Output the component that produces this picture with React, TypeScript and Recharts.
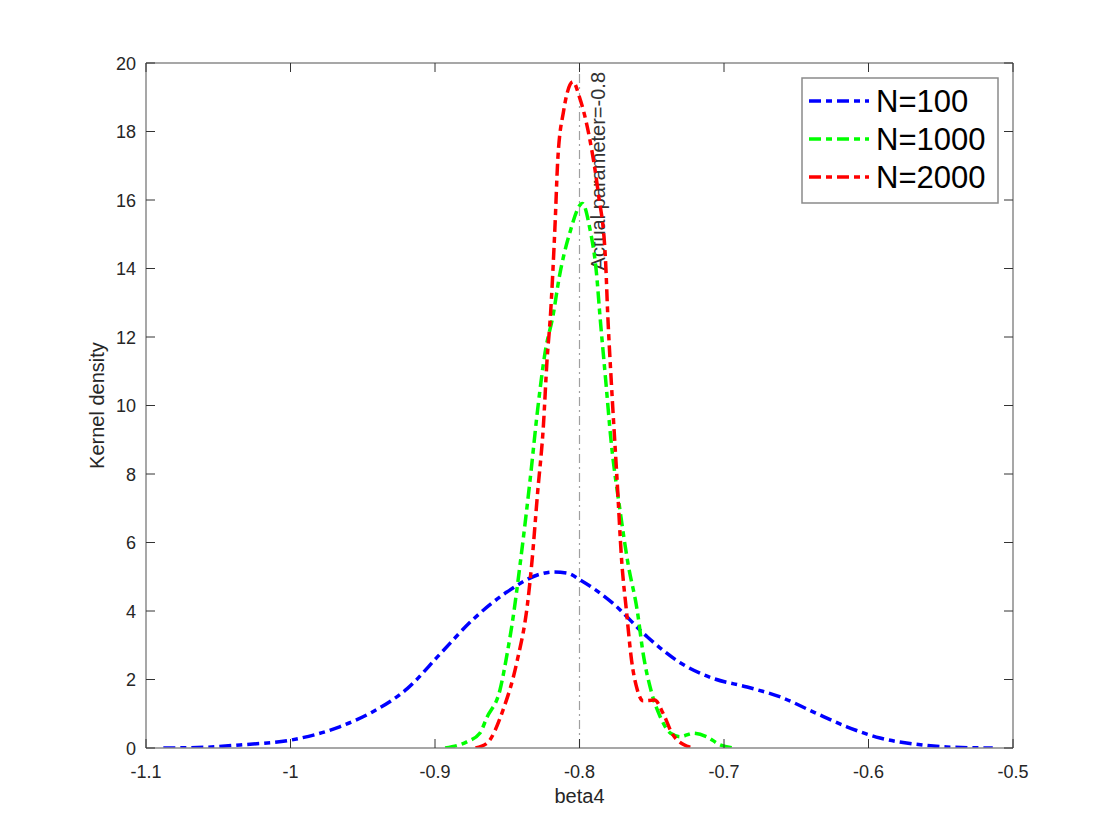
import React from "react";
import {
    Line,
    LineChart,
    XAxis,
    YAxis,
    ReferenceLine,
    Legend
} from "recharts";

// kernel density estimates as [beta4, density]
const n100: [number, number][] = [
    [-1.088, 0], [-1.06, 0.02], [-1.035, 0.09], [-1.0, 0.23], [-0.966, 0.62],
    [-0.943, 1.06], [-0.919, 1.74], [-0.897, 2.72], [-0.874, 3.74], [-0.85, 4.56],
    [-0.827, 5.08], [-0.818, 5.14], [-0.808, 5.1], [-0.8, 4.92], [-0.777, 4.23],
    [-0.753, 3.24], [-0.73, 2.48], [-0.708, 2.04], [-0.684, 1.78], [-0.661, 1.49],
    [-0.638, 1.05], [-0.615, 0.62], [-0.592, 0.29], [-0.569, 0.12], [-0.546, 0.03],
    [-0.514, 0]
];

const n1000: [number, number][] = [
    [-0.893, 0], [-0.878, 0.18], [-0.869, 0.43], [-0.864, 0.9], [-0.855, 1.7],
    [-0.85, 2.77], [-0.846, 3.8], [-0.841, 5.4], [-0.834, 7.9], [-0.829, 9.87],
    [-0.824, 11.5], [-0.818, 12.7], [-0.814, 13.75], [-0.807, 15.0], [-0.798, 15.9],
    [-0.793, 15.2], [-0.788, 13.75], [-0.786, 12.7], [-0.782, 10.8], [-0.778, 8.9],
    [-0.772, 6.95], [-0.7665, 5.4], [-0.76, 4.0], [-0.756, 2.77], [-0.75, 1.6],
    [-0.744, 0.9], [-0.737, 0.43], [-0.73, 0.33], [-0.7215, 0.43], [-0.712, 0.33],
    [-0.703, 0.1], [-0.694, 0]
];

const n2000: [number, number][] = [
    [-0.872, 0], [-0.864, 0.14], [-0.853, 1.1], [-0.843, 2.57], [-0.836, 4.2],
    [-0.833, 5.4], [-0.829, 7.45], [-0.825, 9.4], [-0.8225, 11.3], [-0.82, 12.7],
    [-0.817, 15.2], [-0.815, 17.2], [-0.811, 18.6], [-0.8045, 19.45], [-0.8, 19.0],
    [-0.793, 17.8], [-0.787, 16.2], [-0.782, 14.25], [-0.7805, 12.7], [-0.7776, 10.4],
    [-0.7741, 7.9], [-0.7707, 5.4], [-0.7675, 4.0], [-0.764, 2.57], [-0.76, 1.7],
    [-0.756, 1.38], [-0.748, 1.4], [-0.742, 1.0], [-0.736, 0.43], [-0.728, 0.1],
    [-0.72, 0]
];

const xTicks = [-1.1, -1, -0.9, -0.8, -0.7, -0.6, -0.5];
const yTicks = [0, 2, 4, 6, 8, 10, 12, 14, 16, 18, 20];
const actualParameter = -0.8;

const series = [
    { name: "N=100", color: "#0000ff", points: n100 },
    { name: "N=1000", color: "#00ff00", points: n1000 },
    { name: "N=2000", color: "#ff0000", points: n2000 }
];

const toRows = (pts: [number, number][]) => pts.map(([x, y]) => ({ x, y }));

const DASH = "12 5 6 5";
const FONT = "'Liberation Sans', Arial, Helvetica, sans-serif";
const AXIS_GREY = "#8a8a8a";
const TICK = "#333";
const TEXT = "#262626";
const TL = 9; // inward tick length

const fmtX = (v: number) => String(Math.round(v * 10) / 10);

// MATLAB style ticks point into the plot box
const BottomTick = ({ x, y, payload }: any) => (
    <g>
        <line x1={x} x2={x} y1={y - 17} y2={y - 17 - TL} stroke={TICK} strokeWidth={1} />
        <text x={x} y={y + 13} textAnchor="middle" fontSize={18} fill={TEXT} fontFamily={FONT}>
            {fmtX(payload.value)}
        </text>
    </g>
);

const LeftTick = ({ x, y, payload }: any) => (
    <g>
        <line x1={x + 10} x2={x + 10 + TL} y1={y} y2={y} stroke={TICK} strokeWidth={1} />
        <text x={x} y={y + 6.5} textAnchor="end" fontSize={18} fill={TEXT} fontFamily={FONT}>
            {payload.value}
        </text>
    </g>
);

const TopTick = ({ x, y }: any) => (
    <line x1={x} x2={x} y1={y} y2={y + TL} stroke={TICK} strokeWidth={1} />
);

const RightTick = ({ x, y }: any) => (
    <line x1={x} x2={x - TL} y1={y} y2={y} stroke={TICK} strokeWidth={1} />
);

const LegendBox = () => (
    <svg width={198} height={127}>
        <rect x={1} y={1} width={196} height={125} fill="#fff" stroke={AXIS_GREY} strokeWidth={1.5} />
        {series.map((s, i) => {
            const cy = 24 + i * 38;
            return (
                <g key={s.name}>
                    <line x1={8} x2={68} y1={cy} y2={cy} stroke={s.color} strokeWidth={3.5} strokeDasharray={DASH} />
                    <text x={75} y={cy + 11} fontSize={31} fill="#000" fontFamily={FONT}>{s.name}</text>
                </g>
            );
        })}
    </svg>
);

const RefLabel = ({ viewBox }: any) => {
    const x = viewBox.x + 25;
    const y = viewBox.y + 9;
    return (
        <text
            x={x}
            y={y}
            transform={`rotate(-90 ${x} ${y})`}
            textAnchor="end"
            fontSize={20}
            fill="#333"
            fontFamily={FONT}
        >
            Actual parameter=-0.8
        </text>
    );
};

const YTitle = ({ viewBox }: any) => {
    const x = viewBox.x + 38;
    const y = viewBox.y + viewBox.height / 2;
    return (
        <text x={x} y={y} transform={`rotate(-90 ${x} ${y})`} textAnchor="middle" fontSize={20} fill={TEXT} fontFamily={FONT}>
            Kernel density
        </text>
    );
};

const XTitle = ({ viewBox }: any) => (
    <text x={viewBox.x + viewBox.width / 2} y={viewBox.y + 55} textAnchor="middle" fontSize={20} fill={TEXT} fontFamily={FONT}>
        beta4
    </text>
);

export default function App() {
    return (
        <div style={{ position: "absolute", left: 0, top: 0, width: 1120, height: 840, background: "#fff" }}>
            <LineChart
                width={1120}
                height={840}
                margin={{ top: 62, right: 106, bottom: 32, left: 66 }}
            >
                <XAxis
                    xAxisId="bottom"
                    dataKey="x"
                    type="number"
                    domain={[-1.1, -0.5]}
                    ticks={xTicks}
                    allowDataOverflow
                    height={60}
                    tickSize={0}
                    tickMargin={17}
                    tick={<BottomTick />}
                    tickLine={false}
                    axisLine={{ stroke: AXIS_GREY, strokeWidth: 1.5 }}
                    label={<XTitle />}
                />
                <XAxis
                    xAxisId="top"
                    dataKey="x"
                    orientation="top"
                    type="number"
                    domain={[-1.1, -0.5]}
                    ticks={xTicks}
                    allowDataOverflow
                    height={1}
                    tickSize={0}
                    tickMargin={0}
                    tick={<TopTick />}
                    tickLine={false}
                    axisLine={{ stroke: AXIS_GREY, strokeWidth: 1.5 }}
                />
                <YAxis
                    yAxisId="left"
                    type="number"
                    domain={[0, 20]}
                    ticks={yTicks}
                    allowDataOverflow
                    width={80}
                    tickSize={0}
                    tickMargin={10}
                    tick={<LeftTick />}
                    tickLine={false}
                    axisLine={{ stroke: AXIS_GREY, strokeWidth: 1.5 }}
                    label={<YTitle />}
                />
                <YAxis
                    yAxisId="right"
                    orientation="right"
                    type="number"
                    domain={[0, 20]}
                    ticks={yTicks}
                    allowDataOverflow
                    width={1}
                    tickSize={0}
                    tickMargin={0}
                    tick={<RightTick />}
                    tickLine={false}
                    axisLine={{ stroke: AXIS_GREY, strokeWidth: 1.5 }}
                />

                <ReferenceLine
                    xAxisId="bottom"
                    yAxisId="left"
                    x={actualParameter}
                    stroke="#a0a0a0"
                    strokeWidth={1.2}
                    strokeDasharray="9 4 2 4"
                    label={<RefLabel />}
                />

                {/* invisible copy so the top / right box axes get a series */}
                <Line
                    xAxisId="top"
                    yAxisId="right"
                    data={toRows(n100)}
                    dataKey="y"
                    stroke="none"
                    dot={false}
                    activeDot={false}
                    legendType="none"
                    isAnimationActive={false}
                />

                {series.map(s => (
                    <Line
                        key={s.name}
                        xAxisId="bottom"
                        yAxisId="left"
                        data={toRows(s.points)}
                        dataKey="y"
                        name={s.name}
                        type="monotone"
                        stroke={s.color}
                        strokeWidth={3.5}
                        strokeDasharray={DASH}
                        dot={false}
                        activeDot={false}
                        isAnimationActive={false}
                    />
                ))}

                <Legend
                    layout="vertical"
                    align="center"
                    verticalAlign="middle"
                    content={<LegendBox />}
                    wrapperStyle={{ position: "absolute", left: 801, top: 77, width: 198, height: 127 }}
                />
            </LineChart>
        </div>
    );
}
